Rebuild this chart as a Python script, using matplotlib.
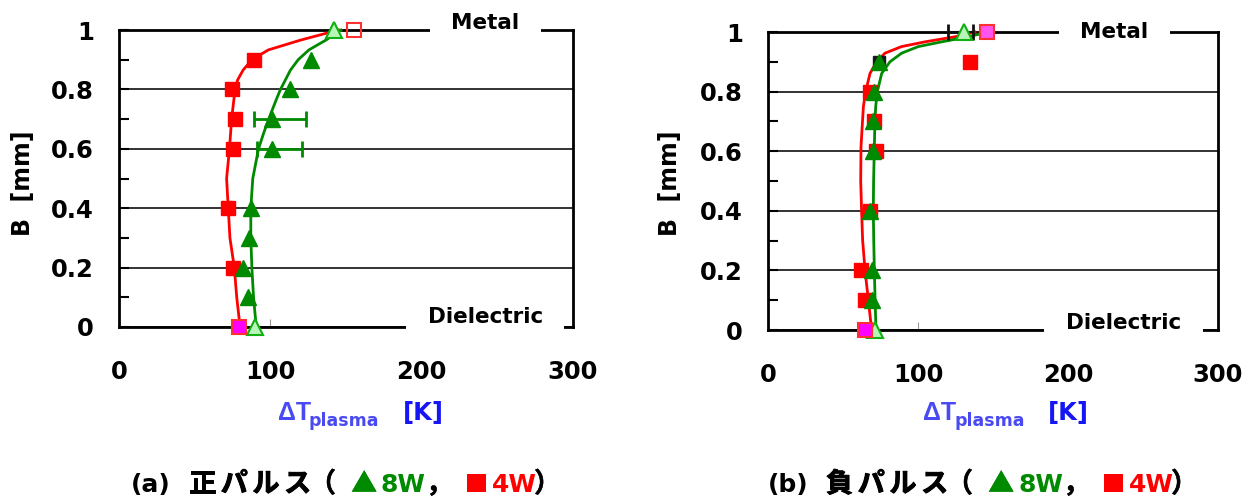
import matplotlib
matplotlib.use("Agg")
import matplotlib.pyplot as plt
import matplotlib.patheffects as pe

plt.rcParams['font.family'] = ['DejaVu Sans', 'Noto Sans CJK JP']
plt.rcParams['font.weight'] = 'bold'

# --- (a) 正パルス ---
b_8w_a = [1.0, 0.9, 0.8, 0.7, 0.6, 0.4, 0.3, 0.2, 0.1, 0.0]
dt_8w_a = [142, 126.7, 113.3, 101, 101.1, 87.3, 86, 82.2, 85.5, 90]
b_4w_a = [1.0, 0.9, 0.8, 0.7, 0.6, 0.4, 0.2, 0.0]
dt_4w_a = [155, 88.9, 74.4, 76.7, 75.5, 72, 75.5, 79.3]
err_b_a = [0.7, 0.6]
err_lo_a = [12, 10]
err_hi_a = [22.3, 19.6]
fit_b_4w_a = [1.0, 0.966, 0.933, 0.9, 0.865, 0.832, 0.8, 0.7, 0.6, 0.5, 0.4, 0.3, 0.2, 0.1, 0.0]
fit_4w_a = [145, 120, 98.7, 87.8, 82, 78.4, 76.7, 74.4, 73, 71.1, 72.2, 73.3, 76.2, 77.8, 80]
fit_b_8w_a = [1.0, 0.966, 0.933, 0.9, 0.865, 0.8, 0.764, 0.7, 0.653, 0.6, 0.5, 0.4, 0.3, 0.2, 0.1, 0.0]
fit_8w_a = [146.7, 136.7, 125.5, 118.4, 113.3, 106.7, 103.8, 98.9, 95.6, 92.2, 88.4, 87.1, 87.1, 87.8, 88.9, 90.7]

# --- (b) 負パルス ---
b_8w_b = [1.0, 0.9, 0.8, 0.7, 0.6, 0.4, 0.2, 0.1, 0.0]
dt_8w_b = [130.7, 74, 70.9, 69.8, 70, 68, 69, 69, 71.3]
b_4w_b = [1.0, 0.9, 0.8, 0.7, 0.6, 0.4, 0.2, 0.1, 0.0]
dt_4w_b = [146, 134.7, 68, 70.9, 72, 68, 61.8, 64.7, 64.7]
err_b_b = [1.0]
err_lo_b = [10.7]
err_hi_b = [6]
fit_b_b = [1.0, 0.984, 0.967, 0.951, 0.929, 0.9, 0.861, 0.8, 0.75, 0.7, 0.615, 0.5, 0.4, 0.3, 0.2, 0.1, 0.0]
fit_4w_b = [138, 124.7, 104.7, 89, 78, 72.4, 68, 65.1, 63.6, 63, 62, 61.8, 62.4, 63.1, 64.7, 66.9, 69.1]
fit_8w_b = [146.8, 133.5, 115.8, 100.2, 89.1, 81.3, 75.8, 72.9, 71.8, 71.3, 70.9, 70.4, 70.2, 70.5, 70.9, 71.4, 72]

x_ticks = [0, 100, 200, 300]
y_ticks = [0, 0.2, 0.4, 0.6, 0.8, 1.0]
y_labels = ['0', '0.2', '0.4', '0.6', '0.8', '1']

RED = '#ff0000'
GREEN = '#008a00'
W, H = 1257, 499

fig = plt.figure(figsize=(W / 100, H / 100), dpi=100)


def fx(x):
    return x / W


def fy(y):
    return 1 - y / H


def frame(ax, metal_xy, diel_xy):
    ax.set_xlim(0, 300)
    ax.set_ylim(0, 1)
    ax.set_xticks(x_ticks)
    ax.set_xticklabels([str(t) for t in x_ticks])
    ax.set_yticks(y_ticks)
    ax.set_yticklabels(y_labels)
    ax.set_yticks([0.1, 0.3, 0.5, 0.7, 0.9], minor=True)
    ax.tick_params(axis='y', which='both', direction='in', length=7, width=1.5,
                   pad=18, labelsize=17.5, right=False)
    ax.tick_params(axis='x', direction='in', length=6, width=0.8, color='#999999',
                   pad=24, labelsize=17.5, top=False)
    for lab in ax.get_xticklabels() + ax.get_yticklabels():
        lab.set_fontweight('bold')
    for s in ax.spines.values():
        s.set_linewidth(2)
    ax.grid(axis='y', color='#222222', linewidth=1.3)
    ax.text(metal_xy[0], metal_xy[1], '  Metal  ', fontsize=15.5, fontweight='bold',
            ha='center', va='center', zorder=3,
            bbox=dict(boxstyle='square,pad=0.3', fc='white', ec='none'))
    ax.text(diel_xy[0], diel_xy[1], '  Dielectric  ', fontsize=15.5, fontweight='bold',
            ha='center', va='center', zorder=3,
            bbox=dict(boxstyle='square,pad=0.3', fc='white', ec='none'))


def points(ax, b8, d8, b4, d4, top_sq_face):
    # the end points (B=0 and B=1) are drawn as open markers
    ax.plot(d4[1:-1], b4[1:-1], 's', color=RED, ms=10, zorder=5, clip_on=False)
    ax.plot(d8[1:-1], b8[1:-1], '^', color=GREEN, ms=11, zorder=5, clip_on=False)
    ax.plot(d8[0], b8[0], '^', mfc='#b8f5b8', mec='#10b010', ms=11, mew=1.5,
            zorder=6, clip_on=False)
    ax.plot(d8[-1], b8[-1], '^', mfc='#b8f5b8', mec='#10b010', ms=11, mew=1.5,
            zorder=6, clip_on=False)
    ax.plot(d4[0], b4[0], 's', mfc=top_sq_face, mec='#ff3030', ms=10, mew=1.5,
            zorder=6, clip_on=False)
    ax.plot(d4[-1], b4[-1], 's', mfc='#ff00ff', mec='#ff3030', ms=10, mew=1.5,
            zorder=6, clip_on=False)


# panel (a)
ax1 = fig.add_axes([fx(119), fy(327), fx(573 - 119), (327 - 30) / H])
frame(ax1, (242, 1.024), (242, 0.034))
ax1.plot(fit_4w_a, fit_b_4w_a, color=RED, lw=2, zorder=4, clip_on=False)
ax1.plot(fit_8w_a, fit_b_8w_a, color=GREEN, lw=2, zorder=4, clip_on=False)
err_dt_a = [dt_8w_a[b_8w_a.index(b)] for b in err_b_a]
ax1.errorbar(err_dt_a, err_b_a, xerr=[err_lo_a, err_hi_a], fmt='none',
             ecolor=GREEN, elinewidth=2, capsize=6, capthick=2, zorder=4)
points(ax1, b_8w_a, dt_8w_a, b_4w_a, dt_4w_a, 'none')

# panel (b)
ax2 = fig.add_axes([fx(768), fy(330), fx(1218 - 768), (330 - 32) / H])
frame(ax2, (231, 1.0), (237, 0.023))
ax2.plot(fit_4w_b, fit_b_b, color=RED, lw=2, zorder=4, clip_on=False)
ax2.plot(fit_8w_b, fit_b_b, color=GREEN, lw=2, zorder=4, clip_on=False)
err_dt_b = [dt_8w_b[b_8w_b.index(b)] for b in err_b_b]
ax2.errorbar(err_dt_b, err_b_b, xerr=[err_lo_b, err_hi_b], fmt='none',
             ecolor='#111111', elinewidth=1.5, capsize=6, capthick=2, zorder=4,
             clip_on=False)
ax2.plot(dt_8w_b[1], b_8w_b[1], 's', color='#1a1a1a', ms=8, zorder=4)
points(ax2, b_8w_b, dt_8w_b, b_4w_b, dt_4w_b, '#ff55ee')


def cjk(x, y, s, size=19.5, color='black', stroke=0.7):
    # the CJK font has a single weight; a thin stroke makes it read as bold
    fig.text(x, y, s, family='Noto Sans CJK JP', fontsize=size, color=color,
             ha='left', va='baseline',
             path_effects=[pe.withStroke(linewidth=stroke, foreground=color)])


# axis titles and captions
for dx, tag, kind in [(0, '(a)', '正'), (637, '(b)', '負')]:
    fig.text(fx(23 + dx * 1.016), fy(183), 'B  [mm]', rotation=90, fontsize=17,
             fontweight='bold', ha='center', va='center')
    ox = 645 if dx else 0
    fig.text(fx(278 + ox), fy(420), 'ΔT', family='Liberation Sans', fontsize=18,
             fontweight='bold', color='#4a4af2', ha='left', va='baseline')
    fig.text(fx(309 + ox), fy(426), 'plasma', fontsize=12.5, fontweight='bold',
             color='#4a4af2', ha='left', va='baseline')
    fig.text(fx(403 + ox), fy(420), '[K]', fontsize=17.5, fontweight='bold',
             color='#1515f5', ha='left', va='baseline')

    base = fy(492)
    fig.text(fx(131 + dx), base, tag, fontsize=18, fontweight='bold',
             ha='left', va='baseline')
    for i, ch in enumerate(kind + 'パルス'):
        cjk(fx(189 + dx + i * 31.7), base, ch)
    cjk(fx(309 + dx), base, '（', stroke=0.3)
    cjk(fx(351 + dx), base, '▲', size=19, color=GREEN, stroke=0)
    fig.text(fx(381 + dx), base, '8W', fontsize=18, fontweight='bold',
             color=GREEN, ha='left', va='baseline')
    cjk(fx(426 + dx), base, '，', stroke=0.3)
    cjk(fx(465 + dx), base, '■', size=17, color=RED, stroke=0)
    fig.text(fx(492 + dx), base, '4W', fontsize=18, fontweight='bold',
             color=RED, ha='left', va='baseline')
    cjk(fx(534 + dx), base, '）', stroke=0.3)

fig.savefig('out.png', dpi=100)
